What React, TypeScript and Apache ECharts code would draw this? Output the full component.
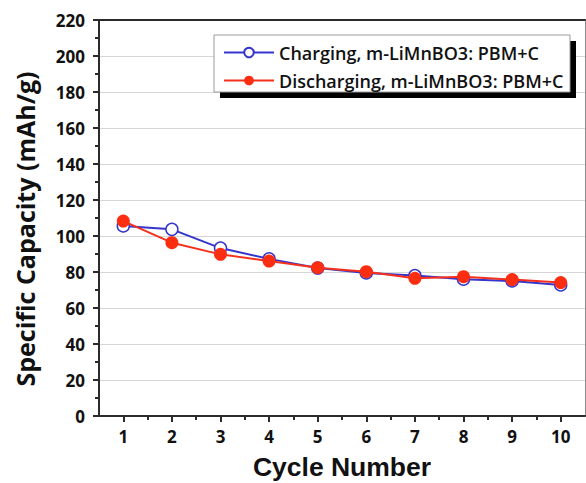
import React, { useEffect, useRef } from "react";
import * as echarts from "echarts";

const cycles = [1, 2, 3, 4, 5, 6, 7, 8, 9, 10];
const minorTicks = [1.5, 2.5, 3.5, 4.5, 5.5, 6.5, 7.5, 8.5, 9.5];
const charging = [105.6, 103.7, 93.3, 87.3, 82.2, 79.5, 78.0, 76.0, 75.0, 72.8];
const discharging = [108.3, 96.3, 89.8, 86.1, 82.4, 80.2, 76.5, 77.4, 75.8, 74.1];
const chargingName = "Charging, m-LiMnBO3: PBM+C";
const dischargingName = "Discharging, m-LiMnBO3: PBM+C";
const xTitle = "Cycle Number";
const yTitle = "Specific Capacity (mAh/g)";

const FONT = "'Open Sans', 'Noto Sans', sans-serif";
const TITLE_FONT = "'Liberation Sans', 'Open Sans', sans-serif";
const AXIS = "#2b2b2b";

export default function App() {
  const ref = useRef<HTMLDivElement>(null);
  useEffect(() => {
    if (!ref.current) return;
    const chart = echarts.init(ref.current, null, { renderer: "svg" });
    const option: any = {
      animation: false,
      backgroundColor: "#ffffff",
      grid: { left: 99, right: 1, top: 20, bottom: 67, containLabel: false, outerBoundsMode: "none" },
      graphic: [
        { type: "rect", z: 5, shape: { x: 220, y: 41, width: 356, height: 57 }, style: { fill: "#000" } },
        { type: "rect", z: 6, shape: { x: 214, y: 35, width: 356, height: 57 }, style: { fill: "#fff", stroke: "#9a9a9a", lineWidth: 1 } },
        {
          type: "text",
          z: 10,
          x: 25,
          y: 229,
          rotation: Math.PI / 2,
          style: {
            text: yTitle,
            fontFamily: FONT,
            fontSize: 25,
            fontWeight: "bold",
            fill: "#111",
            textAlign: "center",
            textVerticalAlign: "middle",
            align: "center",
            verticalAlign: "middle",
          },
        },
        {
          type: "text",
          z: 10,
          x: 342,
          y: 467,
          style: {
            text: xTitle,
            fontFamily: TITLE_FONT,
            fontSize: 26.5,
            lineHeight: 28,
            fontWeight: "bold",
            fill: "#111",
            textAlign: "center",
            textVerticalAlign: "middle",
            align: "center",
            verticalAlign: "middle",
          },
        },
      ],
      legend: {
        z: 10,
        orient: "vertical",
        left: 218,
        top: 38,
        padding: 5,
        itemWidth: 50,
        itemHeight: 12,
        itemGap: 9,
        textStyle: { fontFamily: FONT, fontSize: 18, fontWeight: 600, color: "#111", lineHeight: 19 },
        data: [chargingName, dischargingName],
      },
      xAxis: [
        {
          type: "value",
          min: 0.5,
          max: 10.5,
          position: "bottom",
          axisLine: { show: true, lineStyle: { color: AXIS, width: 2 } },
          axisTick: { show: true, length: 6, customValues: cycles, lineStyle: { color: AXIS, width: 2 } },
          axisLabel: { customValues: cycles, margin: 12, lineHeight: 17, fontFamily: FONT, fontSize: 17, fontWeight: "bold", color: "#111" },
          splitLine: { show: false },
        },
        {
          type: "value",
          min: 0.5,
          max: 10.5,
          position: "bottom",
          axisLine: { show: false },
          axisTick: { show: true, length: 4, customValues: minorTicks, lineStyle: { color: AXIS, width: 2 } },
          axisLabel: { show: false },
          splitLine: { show: false },
        },
        {
          type: "value",
          min: 0.5,
          max: 10.5,
          position: "top",
          axisLine: { show: true, lineStyle: { color: AXIS, width: 2 } },
          axisTick: { show: false },
          axisLabel: { show: false },
          splitLine: { show: false },
        },
      ],
      yAxis: [
        {
          type: "value",
          min: 0,
          max: 220,
          interval: 20,
          position: "left",
          axisLine: { show: true, lineStyle: { color: AXIS, width: 2 } },
          axisTick: { show: true, length: 6, lineStyle: { color: AXIS, width: 2 } },
          minorTick: { show: true, splitNumber: 2, length: 4, lineStyle: { color: AXIS, width: 2 } },
          axisLabel: { margin: 14, fontFamily: FONT, fontSize: 17, fontWeight: "bold", color: "#111" },
          splitLine: { show: true, lineStyle: { color: "#d6d6d6", width: 1 } },
        },
        {
          type: "value",
          min: 0,
          max: 220,
          position: "right",
          axisLine: { show: true, lineStyle: { color: "#8a8a8a", width: 1 } },
          axisTick: { show: false },
          axisLabel: { show: false },
          splitLine: { show: false },
        },
      ],
      series: [
        {
          name: chargingName,
          type: "line",
          xAxisIndex: 0,
          yAxisIndex: 0,
          data: cycles.map((c, i) => [c, charging[i]]),
          symbol: "circle",
          symbolSize: 12,
          lineStyle: { color: "#3535cc", width: 2 },
          itemStyle: { color: "#ffffff", borderColor: "#3535cc", borderWidth: 1.5 },
          z: 3,
        },
        {
          name: dischargingName,
          type: "line",
          xAxisIndex: 0,
          yAxisIndex: 0,
          data: cycles.map((c, i) => [c, discharging[i]]),
          symbol: "circle",
          symbolSize: 13,
          lineStyle: { color: "#f5301c", width: 2 },
          itemStyle: { color: "#fb2e12", borderColor: "#fb2e12", borderWidth: 0 },
          z: 4,
        },
      ],
    };
    chart.setOption(option);
    return () => chart.dispose();
  }, []);
  return (
    <div
      ref={ref}
      style={{ position: "fixed", left: 0, top: 0, width: 586, height: 483, background: "#fff" }}
    />
  );
}
